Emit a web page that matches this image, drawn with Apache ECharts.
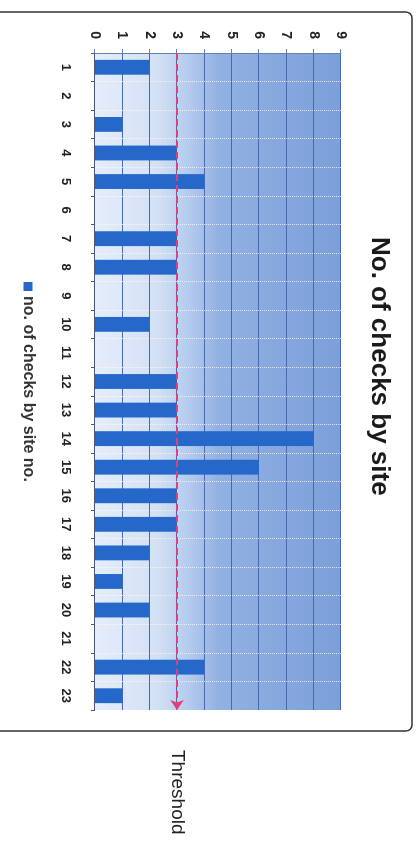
<!DOCTYPE html>
<html>
<head>
<meta charset="utf-8">
<script src="https://cdn.jsdelivr.net/npm/echarts@6/dist/echarts.min.js"></script>
<style>
html,body{margin:0;padding:0;background:#fff;overflow:hidden;width:419px;height:844px}
#wrap{position:absolute;left:0;top:0;width:844px;height:419px;transform-origin:0 0;transform:translateX(419px) rotate(90deg);}
#chart{width:844px;height:419px}
</style>
</head>
<body>
<div id="wrap"><div id="chart"></div></div>
<script>
const siteNumbers = ['1','2','3','4','5','6','7','8','9','10','11','12','13','14','15','16','17','18','19','20','21','22','23'];
const checksBySite = [2,0,1,3,4,0,3,3,0,2,0,3,3,8,6,3,3,2,1,2,0,4,1];
const valueMin = 0, valueMax = 9, valueStep = 1;
const thresholdValue = 3;
const seriesName = 'no. of checks by site no.';
const chartTitle = 'No. of checks by site';
const thresholdLabel = 'Threshold';

const chart = echarts.init(document.getElementById('chart'), null, {width:844, height:419, renderer:'canvas'});
const font = 'Liberation Sans';
chart.setOption({
  animation: false,
  backgroundColor: '#ffffff',
  title: {
    text: chartTitle, left: 237, top: 27, padding: 0,
    textStyle: {fontFamily: font, fontWeight: 'bold', fontSize: 26, color: '#1a1a1a'}
  },
  legend: {
    data: [seriesName], left: 282, top: 383, icon: 'rect', itemWidth: 9, itemHeight: 9, padding: 0,
    textStyle: {fontFamily: font, fontWeight: 'bold', fontSize: 16, color: '#333'}
  },
  graphic: [{
    type: 'rect', shape: {x: 12, y: 7, width: 719, height: 440, r: 6},
    style: {fill: 'none', stroke: '#333', lineWidth: 1.5}, silent: true
  }],
  grid: {
    left: 53, right: 134, top: 78, bottom: 95, show: true, borderWidth: 0,
    backgroundColor: new echarts.graphic.LinearGradient(0, 0, 0, 1, [
      {offset: 0, color: '#7a9fd9'}, {offset: 0.5, color: '#92b1e3'},
      {offset: 0.62, color: '#b4cbee'}, {offset: 0.75, color: '#d3e1f5'}, {offset: 1, color: '#e4edfa'}
    ])
  },
  xAxis: {
    type: 'category', data: siteNumbers, boundaryGap: true,
    axisLine: {lineStyle: {color: '#4a5a7a', width: 1}},
    axisTick: {show: true, length: 4, lineStyle: {color: '#4a5a7a'}},
    axisLabel: {margin: 23, fontFamily: font, fontSize: 13, fontWeight: 'bold', color: '#222'},
    splitLine: {show: true, lineStyle: {color: 'rgba(255,255,255,0.7)', type: 'dotted'}}
  },
  yAxis: {
    type: 'value', min: valueMin, max: valueMax, interval: valueStep,
    axisLine: {show: true, lineStyle: {color: '#6680b0'}},
    axisTick: {show: true, length: 4, lineStyle: {color: '#6680b0'}},
    axisLabel: {margin: 14, fontFamily: font, fontSize: 14, fontWeight: 'bold', color: '#222'},
    splitLine: {show: true, lineStyle: {color: '#4a68aa', width: 1}}
  },
  series: [{
    type: 'bar', name: seriesName, data: checksBySite, barWidth: '52%',
    itemStyle: {color: '#2668c9'},
    markLine: {
      silent: true, symbol: ['none', 'arrow'], symbolSize: 10,
      lineStyle: {color: '#e0407a', type: [7, 4], width: 2},
      label: {show: true, position: 'end', formatter: thresholdLabel, distance: 40,
        fontFamily: font, fontSize: 19, color: '#222'},
      data: [{yAxis: thresholdValue}]
    }
  }]
});
</script>
</body>
</html>
